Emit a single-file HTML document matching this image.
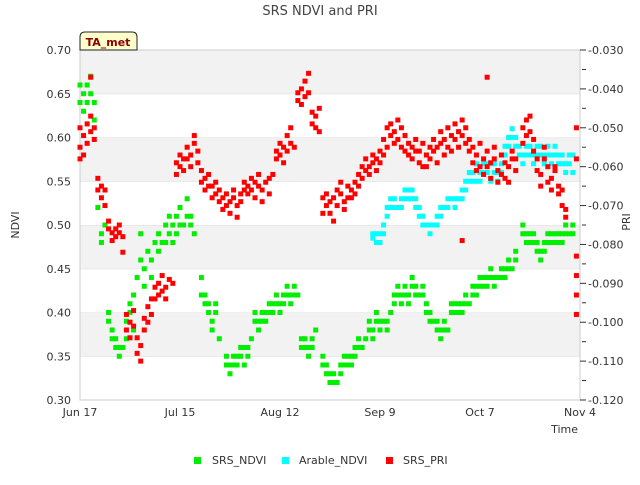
<!DOCTYPE html>
<html><head><meta charset="utf-8"><style>
body{margin:0;background:#fff;font-family:"Liberation Sans","DejaVu Sans",sans-serif}
svg text{font-family:"DejaVu Sans","Liberation Sans",sans-serif}
</style></head><body>
<svg id="chart" width="640" height="480" xmlns="http://www.w3.org/2000/svg">
<rect width="640" height="480" fill="#fff"/>
<text x="320" y="15" text-anchor="middle" font-size="13" fill="#444">SRS NDVI and PRI</text>
<g id="bands"></g>
<rect x="80" y="50" width="500" height="350" fill="none" stroke="#ccc"/>
<g id="marks"></g>
<g id="axes"></g>
<g>
<path d="M80,50 L80,37 Q80,32 85,32 L132,32 Q137,32 137,37 L137,50 Z" fill="#ffffcc" stroke="#222"/>
<text x="108" y="46" text-anchor="middle" font-size="11" font-weight="bold" fill="#8b0000">TA_met</text>
</g>
<text transform="translate(19,225) rotate(-90)" text-anchor="middle" font-size="11" fill="#333">NDVI</text>
<text transform="translate(630,222) rotate(-90)" text-anchor="middle" font-size="11" fill="#333">PRI</text>
<text x="578" y="433" text-anchor="end" font-size="11" fill="#333">Time</text>
<g font-size="11" fill="#333">
<g><rect x="194" y="457" width="7" height="7" fill="#00ee00"/><text x="212" y="464">SRS_NDVI</text></g>
<g><rect x="282" y="457" width="7" height="7" fill="#00ffff"/><text x="299" y="464">Arable_NDVI</text></g>
<g><rect x="386" y="457" width="7" height="7" fill="#ff0000"/><text x="403" y="464">SRS_PRI</text></g>
</g>
</svg>
<script>
const xTickLabels=["Jun 17","Jul 15","Aug 12","Sep 9","Oct 7","Nov 4"];
const xTickDays=[0,28,56,84,112,140];
const yTicks=[0.30,0.35,0.40,0.45,0.50,0.55,0.60,0.65,0.70];
const y2Ticks=[-0.120,-0.110,-0.100,-0.090,-0.080,-0.070,-0.060,-0.050,-0.040,-0.030];
const ndviDays=[0,0,1,1,2,2,3,3,4,4,5,6,6,7,8,8,9,9,10,10,11,11,12,13,13,14,14,15,15,16,17,17,18,18,19,20,20,21,22,22,23,24,24,25,25,26,26,27,27,28,28,29,30,30,31,31,32,34,34,35,35,36,36,37,37,38,38,39,41,41,42,42,43,43,44,44,45,45,46,46,47,47,48,49,49,50,50,51,51,52,52,53,53,54,54,55,55,56,56,57,57,58,58,59,59,60,60,61,62,62,63,63,64,64,65,65,66,68,68,69,69,70,70,71,71,72,73,73,74,74,75,75,76,76,77,77,78,78,79,80,81,81,82,82,83,83,84,84,85,86,86,87,88,88,89,89,90,90,91,91,92,92,93,93,94,94,95,96,96,97,97,98,98,99,100,100,101,101,102,102,103,104,104,105,105,106,106,107,107,108,108,109,110,110,111,111,112,112,113,113,114,114,115,115,116,116,117,118,118,119,119,120,120,121,122,122,124,124,125,125,126,126,127,127,128,128,129,129,130,130,131,131,132,132,133,133,134,134,135,135,136,136,137,138,138];
const ndviVals=[0.64,0.66,0.65,0.63,0.66,0.64,0.67,0.65,0.64,0.62,0.52,0.48,0.49,0.50,0.40,0.39,0.38,0.37,0.36,0.37,0.35,0.36,0.36,0.37,0.39,0.40,0.41,0.38,0.42,0.44,0.46,0.49,0.45,0.43,0.47,0.44,0.46,0.48,0.47,0.49,0.48,0.50,0.48,0.49,0.51,0.48,0.50,0.51,0.49,0.52,0.50,0.50,0.53,0.51,0.51,0.50,0.49,0.44,0.42,0.41,0.42,0.40,0.41,0.39,0.38,0.41,0.40,0.37,0.34,0.35,0.34,0.33,0.34,0.35,0.35,0.34,0.35,0.36,0.36,0.34,0.36,0.35,0.37,0.40,0.39,0.39,0.38,0.40,0.39,0.39,0.40,0.40,0.41,0.41,0.40,0.42,0.41,0.41,0.40,0.42,0.41,0.43,0.42,0.42,0.41,0.43,0.42,0.42,0.37,0.36,0.36,0.37,0.35,0.36,0.37,0.36,0.38,0.35,0.34,0.34,0.33,0.33,0.32,0.33,0.32,0.32,0.34,0.33,0.35,0.34,0.34,0.35,0.35,0.34,0.36,0.35,0.37,0.36,0.36,0.37,0.39,0.38,0.38,0.37,0.39,0.40,0.38,0.39,0.39,0.38,0.39,0.40,0.41,0.42,0.43,0.42,0.42,0.41,0.42,0.43,0.42,0.41,0.43,0.44,0.43,0.42,0.42,0.42,0.43,0.40,0.41,0.40,0.39,0.39,0.38,0.39,0.38,0.37,0.38,0.39,0.38,0.40,0.41,0.41,0.40,0.40,0.41,0.41,0.40,0.41,0.42,0.41,0.42,0.43,0.43,0.42,0.44,0.43,0.43,0.44,0.44,0.43,0.45,0.44,0.44,0.43,0.44,0.44,0.45,0.45,0.44,0.46,0.45,0.45,0.47,0.46,0.50,0.49,0.48,0.49,0.49,0.48,0.49,0.48,0.47,0.48,0.47,0.46,0.47,0.48,0.48,0.49,0.48,0.49,0.49,0.48,0.48,0.49,0.49,0.48,0.50,0.49,0.49,0.50,0.49];
const arableDays=[82,82,83,83,84,84,85,85,86,86,87,87,88,88,89,90,90,91,91,92,92,93,93,94,94,95,95,96,96,97,98,98,99,100,100,101,101,102,103,103,104,105,105,106,107,107,108,108,109,109,110,110,111,111,112,112,113,113,114,114,115,115,116,116,117,117,118,118,119,119,120,120,121,121,122,122,123,123,124,124,125,125,126,126,127,127,128,128,129,129,130,130,131,131,132,132,133,133,134,134,135,135,136,136,137,137,138,138];
const arableVals=[0.49,0.485,0.48,0.49,0.49,0.48,0.50,0.49,0.52,0.51,0.52,0.53,0.53,0.52,0.52,0.53,0.52,0.53,0.54,0.54,0.53,0.54,0.53,0.53,0.52,0.52,0.51,0.51,0.50,0.50,0.50,0.49,0.50,0.50,0.51,0.52,0.51,0.52,0.52,0.53,0.53,0.53,0.52,0.53,0.54,0.53,0.55,0.54,0.56,0.55,0.56,0.55,0.55,0.57,0.56,0.55,0.57,0.56,0.56,0.57,0.57,0.55,0.56,0.57,0.56,0.55,0.57,0.56,0.58,0.59,0.59,0.60,0.60,0.61,0.60,0.59,0.59,0.58,0.58,0.57,0.58,0.59,0.59,0.58,0.58,0.57,0.58,0.59,0.59,0.58,0.58,0.57,0.58,0.59,0.58,0.57,0.58,0.59,0.57,0.58,0.58,0.57,0.57,0.56,0.57,0.58,0.58,0.56];
const priDays=[0,0,0,1,1,2,2,3,3,3,4,4,5,5,6,6,7,7,8,8,9,9,10,10,11,11,12,12,13,13,14,14,15,15,16,16,17,17,18,18,19,19,20,20,21,21,22,22,23,23,24,24,25,26,27,27,28,28,29,29,30,30,31,31,32,32,33,33,34,34,35,35,36,36,37,37,38,38,39,39,40,40,41,41,42,42,43,43,44,44,45,45,46,46,47,47,48,48,49,49,50,50,51,51,52,53,53,54,55,55,56,56,57,57,58,58,59,59,60,61,61,62,62,63,63,64,64,65,65,66,66,67,67,68,68,69,69,70,70,71,71,72,72,73,73,74,74,75,75,76,76,77,77,78,78,79,79,80,80,81,81,82,82,83,83,84,84,85,85,86,86,87,87,88,88,89,89,90,90,91,91,92,92,93,93,94,94,95,95,96,96,97,97,98,98,99,99,100,100,101,101,102,102,103,103,104,104,105,105,106,106,107,107,107,108,108,109,109,110,110,111,111,112,112,113,113,114,114,114,115,115,116,116,117,117,118,118,119,119,120,120,121,121,122,122,124,124,125,125,126,126,127,127,128,128,129,129,130,130,131,131,132,132,133,133,134,134,135,135,136,136,139,139,139,139,139,139];
const priVals=[-0.055,-0.058,-0.050,-0.052,-0.057,-0.049,-0.054,-0.047,-0.051,-0.037,-0.050,-0.053,-0.063,-0.066,-0.065,-0.068,-0.066,-0.070,-0.074,-0.076,-0.077,-0.079,-0.076,-0.078,-0.075,-0.077,-0.078,-0.082,-0.098,-0.102,-0.100,-0.104,-0.097,-0.101,-0.104,-0.108,-0.110,-0.106,-0.099,-0.102,-0.096,-0.100,-0.094,-0.098,-0.094,-0.091,-0.090,-0.093,-0.088,-0.092,-0.091,-0.094,-0.089,-0.090,-0.062,-0.059,-0.060,-0.057,-0.058,-0.061,-0.055,-0.058,-0.057,-0.060,-0.054,-0.052,-0.056,-0.059,-0.061,-0.064,-0.063,-0.066,-0.062,-0.065,-0.065,-0.068,-0.064,-0.067,-0.066,-0.069,-0.068,-0.071,-0.067,-0.070,-0.069,-0.072,-0.068,-0.066,-0.070,-0.073,-0.067,-0.069,-0.066,-0.064,-0.065,-0.067,-0.063,-0.066,-0.064,-0.068,-0.062,-0.065,-0.066,-0.069,-0.064,-0.063,-0.067,-0.062,-0.058,-0.056,-0.054,-0.057,-0.055,-0.059,-0.052,-0.056,-0.054,-0.050,-0.055,-0.041,-0.043,-0.040,-0.044,-0.038,-0.042,-0.036,-0.041,-0.046,-0.049,-0.047,-0.050,-0.045,-0.051,-0.068,-0.072,-0.070,-0.067,-0.072,-0.069,-0.068,-0.074,-0.066,-0.070,-0.067,-0.064,-0.069,-0.071,-0.065,-0.068,-0.066,-0.068,-0.064,-0.067,-0.062,-0.065,-0.060,-0.063,-0.058,-0.061,-0.060,-0.062,-0.057,-0.059,-0.061,-0.058,-0.056,-0.059,-0.053,-0.057,-0.050,-0.055,-0.049,-0.052,-0.051,-0.054,-0.048,-0.053,-0.050,-0.055,-0.052,-0.056,-0.054,-0.057,-0.055,-0.058,-0.053,-0.056,-0.056,-0.059,-0.054,-0.060,-0.057,-0.060,-0.055,-0.058,-0.053,-0.056,-0.055,-0.059,-0.051,-0.054,-0.053,-0.057,-0.050,-0.055,-0.052,-0.056,-0.049,-0.053,-0.051,-0.055,-0.048,-0.052,-0.079,-0.050,-0.054,-0.053,-0.056,-0.055,-0.059,-0.057,-0.061,-0.054,-0.060,-0.058,-0.062,-0.056,-0.060,-0.037,-0.059,-0.063,-0.055,-0.058,-0.061,-0.064,-0.057,-0.062,-0.059,-0.063,-0.060,-0.064,-0.056,-0.058,-0.058,-0.061,-0.050,-0.054,-0.048,-0.052,-0.047,-0.051,-0.053,-0.056,-0.058,-0.061,-0.062,-0.065,-0.055,-0.058,-0.060,-0.064,-0.063,-0.066,-0.061,-0.060,-0.065,-0.067,-0.070,-0.066,-0.071,-0.073,-0.050,-0.058,-0.083,-0.093,-0.088,-0.098];

const NS="http://www.w3.org/2000/svg";
const L=80,R=580,T=50,B=400;
const xScale=d=>L+(d/140)*(R-L);
const yScale=v=>B-(v-0.30)/(0.40)*(B-T);
const y2Scale=v=>B-(v+0.120)/(0.090)*(B-T);
function mk(tag,attrs,parent){const e=document.createElementNS(NS,tag);for(const k in attrs)e.setAttribute(k,attrs[k]);parent.appendChild(e);return e;}
const bands=document.getElementById('bands'),marks=document.getElementById('marks'),axes=document.getElementById('axes');
for(let i=0;i<yTicks.length-1;i++){
  const y1=yScale(yTicks[i+1]),y0=yScale(yTicks[i]);
  const b=mk('rect',{x:L,y:y1,width:R-L,height:y0-y1,fill:(i%2===1)?'#f2f2f2':'#fff'},bands);
  
  
  const g=mk('line',{x1:L,x2:R,y1:y1,y2:y1,stroke:'#ddd'},bands);
  
  
}
yTicks.forEach(v=>{
  const t=mk('text',{x:71,y:yScale(v)+4,'text-anchor':'end','font-size':11,fill:'#333'},axes);
  t.textContent=v.toFixed(2);
  
  
});
y2Ticks.forEach(v=>{
  const y=y2Scale(v);
  const tk=mk('line',{x1:R,x2:R+6,y1:y,y2:y,stroke:'#333'},axes);
  
  
  const t=mk('text',{x:588,y:y+4,'font-size':11,fill:'#333'},axes);
  t.textContent=v.toFixed(3);
  
  
  if(v<-0.03){const ym=y2Scale(v+0.005);
    const m=mk('line',{x1:R+2,x2:R+6,y1:ym,y2:ym,stroke:'#333'},axes);
    
    }
});
xTickDays.forEach((d,i)=>{
  const t=mk('text',{x:xScale(d),y:416,'text-anchor':'middle','font-size':11,fill:'#333'},axes);
  t.textContent=xTickLabels[i];
  
  
});
function series(days,vals,sc,color,name){
  for(let i=0;i<days.length;i++){
    const r=mk('rect',{x:xScale(days[i])-2.5,y:sc(vals[i])-2.5,width:5,height:5,fill:color},marks);
    
    
  }
}
series(ndviDays,ndviVals,yScale,'#00ee00','srs-ndvi-point');
series(arableDays,arableVals,yScale,'#00ffff','arable-ndvi-point');
series(priDays,priVals,y2Scale,'#ff0000','srs-pri-point');
</script>
</body></html>
